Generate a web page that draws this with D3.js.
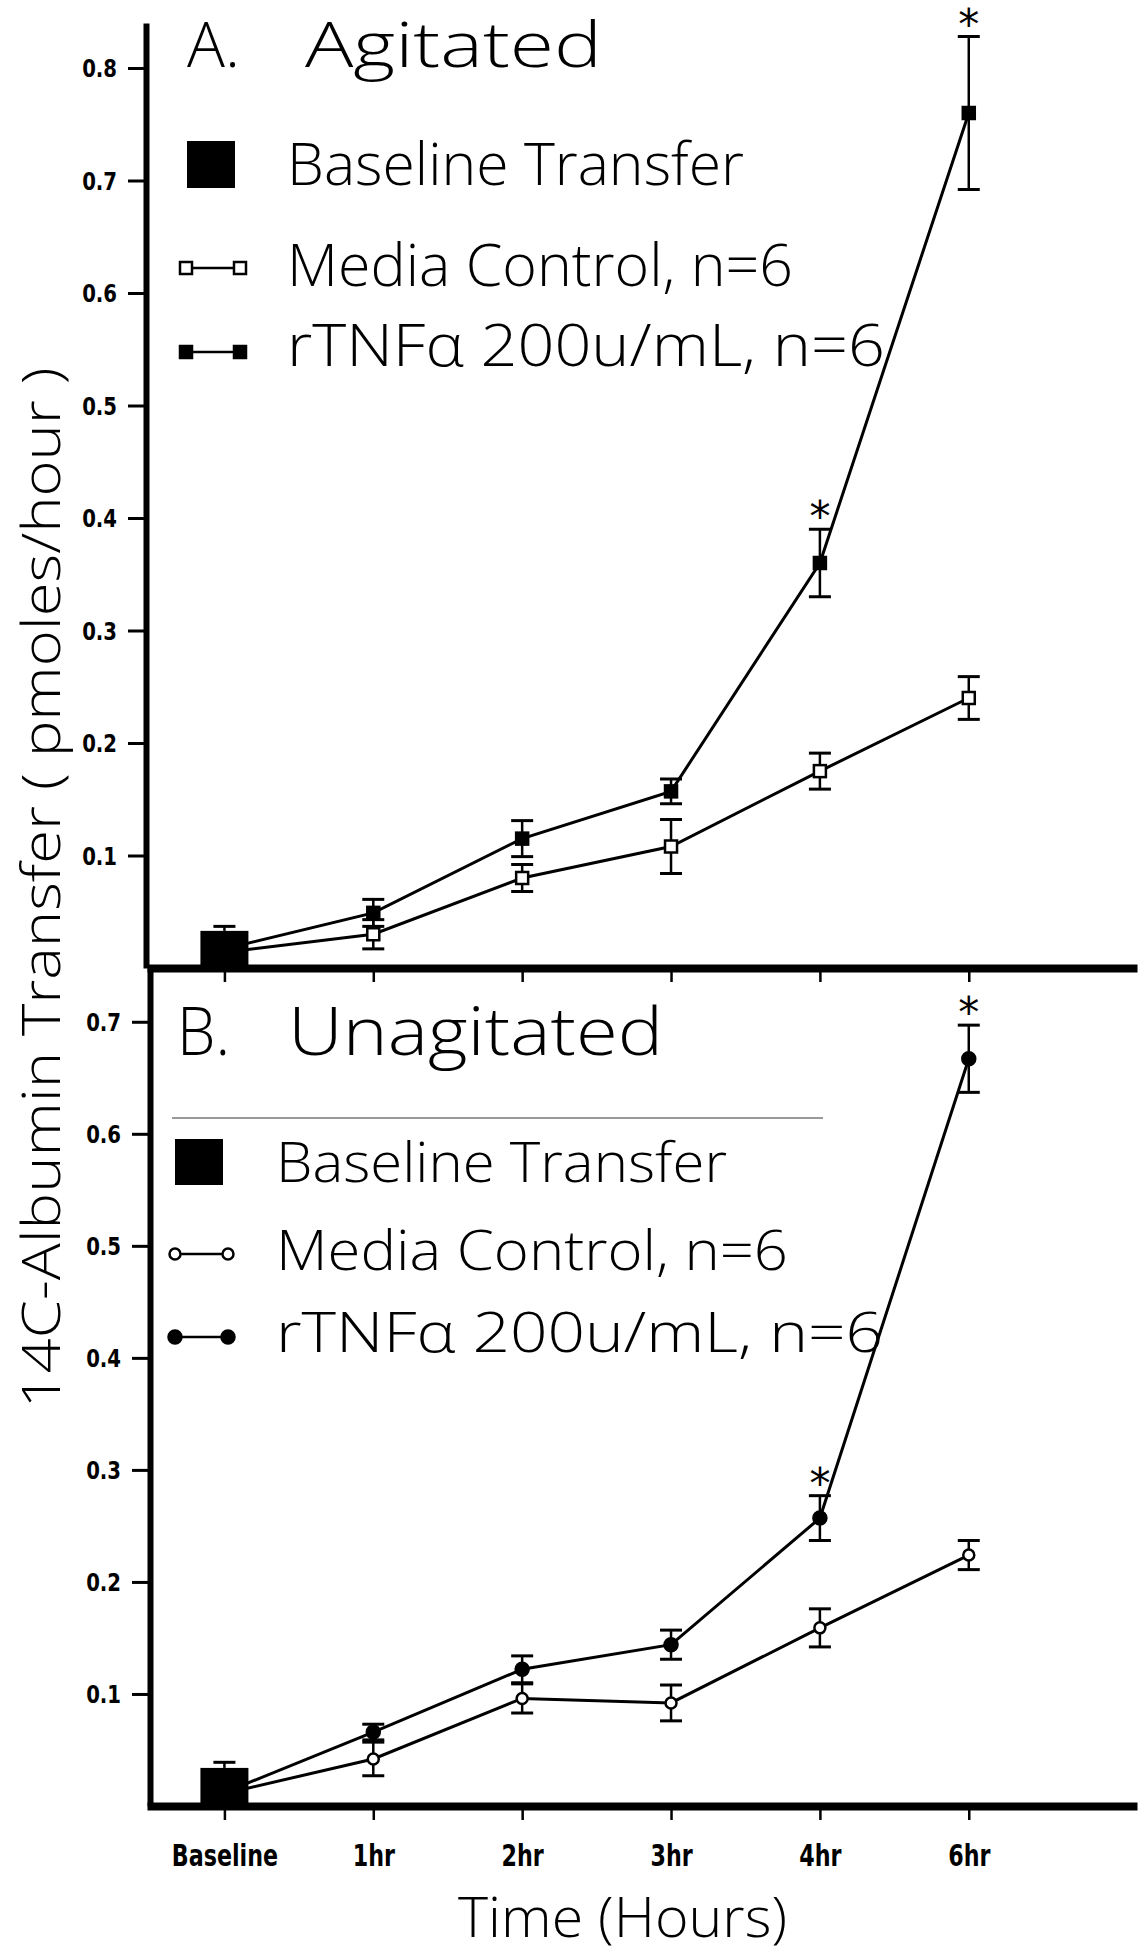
<!DOCTYPE html>
<html>
<head>
<meta charset="utf-8">
<script src="https://cdnjs.cloudflare.com/ajax/libs/d3/7.8.5/d3.min.js"></script>
<style>
    body { margin: 0; background: #fff; }
    svg { display: block; }
    .thin { font-family: 'Open Sans', Lato, 'DejaVu Sans', sans-serif; font-weight: 300; fill: #000; }
    .lbl { font-family: 'DejaVu Sans', sans-serif; font-weight: bold; fill: #000; }
</style>
</head>
<body>
<div id="chart"></div>
<script>
//Datos
const categorias = ['Baseline', '1hr', '2hr', '3hr', '4hr', '6hr'];

//A. Agitated
const mediaA = [0.014, 0.030, 0.080, 0.108, 0.175, 0.240];
const mediaAErr = [0, 0.013, 0.012, 0.024, 0.016, 0.019];
const tnfA = [0.017, 0.049, 0.115, 0.157, 0.360, 0.760];
const tnfAErr = [0, 0.012, 0.016, 0.011, 0.030, 0.068];
const basalA = 0.033, basalAErr = 0.004;
const ticksA = [0.1, 0.2, 0.3, 0.4, 0.5, 0.6, 0.7, 0.8];

//B. Unagitated
const mediaB = [0.011, 0.042, 0.096, 0.092, 0.159, 0.224];
const mediaBErr = [0, 0.015, 0.013, 0.016, 0.017, 0.013];
const tnfB = [0.012, 0.066, 0.122, 0.144, 0.257, 0.667];
const tnfBErr = [0, 0.007, 0.012, 0.013, 0.020, 0.030];
const basalB = 0.034, basalBErr = 0.005;
const ticksB = [0.1, 0.2, 0.3, 0.4, 0.5, 0.6, 0.7];

const significativos = ['4hr', '6hr'];

const textoBasal = 'Baseline Transfer',
    textoMedia = 'Media Control, n=6',
    textoTnf = 'rTNFα 200u/mL, n=6';

///Lienzo
let width = 1142, height = 1954;

let svg = d3.select('#chart')
    .append('svg')
    .attr('width', width)
    .attr('height', height);

//Eje X común (índice de categoría)
let x = d3.scaleLinear()
    .domain([-0.52, 6.13])
    .range([147, 1137]);

//Ajuste del ancho de textos
function squeeze(sel, factor) {
    sel.each(function() {
        let w = this.getComputedTextLength();
        d3.select(this).attr('textLength', w * factor).attr('lengthAdjust', 'spacingAndGlyphs');
    });
}

function drawPanel(cfg) {
    let g = svg.append('g');
    let y = cfg.y;

    //Eje Y
    let gy = g.append('g')
        .attr('transform', 'translate(' + cfg.axisX + ',0)')
        .call(d3.axisLeft(y).tickValues(cfg.ticks).tickSize(18).tickSizeOuter(0).tickPadding(11).tickFormat(d3.format('.1f')));
    gy.select('.domain').attr('stroke', '#000').attr('stroke-width', 6);
    gy.selectAll('.tick line').attr('stroke', '#000').attr('stroke-width', 3);
    gy.selectAll('.tick text')
        .attr('class', 'lbl')
        .attr('font-size', 24)
        .attr('dy', '0.36em')
        .call(squeeze, 0.82);

    //Eje X
    let gx = g.append('g')
        .attr('transform', 'translate(0,' + y(0) + ')')
        .call(d3.axisBottom(x).tickValues(d3.range(categorias.length)).tickSize(14).tickSizeOuter(0).tickPadding(25)
            .tickFormat(function(i) { return cfg.labels ? categorias[i] : ''; }));
    gx.select('.domain').attr('stroke', '#000').attr('stroke-width', 8);
    gx.selectAll('.tick line').attr('stroke', '#000').attr('stroke-width', 2.5);
    gx.selectAll('.tick text')
        .attr('class', 'lbl')
        .attr('font-size', 30)
        .call(squeeze, 0.74);

    //Líneas
    let line = d3.line()
        .x(function(d, i) { return x(i); })
        .y(function(d) { return y(d); });

    [cfg.media, cfg.tnf].forEach(function(serie) {
        g.append('path')
            .datum(serie)
            .attr('d', line)
            .attr('fill', 'none')
            .attr('stroke', '#000')
            .attr('stroke-width', 3);
    });

    //Barra basal
    let bw = 48;
    g.append('line')
        .attr('x1', x(0)).attr('x2', x(0))
        .attr('y1', y(cfg.basal)).attr('y2', y(cfg.basal + cfg.basalErr))
        .attr('stroke', '#000').attr('stroke-width', 2.5);
    g.append('line')
        .attr('x1', x(0) - 11).attr('x2', x(0) + 11)
        .attr('y1', y(cfg.basal + cfg.basalErr)).attr('y2', y(cfg.basal + cfg.basalErr))
        .attr('stroke', '#000').attr('stroke-width', 3);
    g.append('rect')
        .attr('x', x(0) - bw / 2)
        .attr('y', y(cfg.basal))
        .attr('width', bw)
        .attr('height', y(0) - y(cfg.basal))
        .attr('fill', '#000');

    //Barras de error
    [[cfg.media, cfg.mediaErr], [cfg.tnf, cfg.tnfErr]].forEach(function(par) {
        let vals = par[0], errs = par[1];
        let eg = g.append('g').selectAll('g')
            .data(d3.range(1, vals.length))
            .enter()
            .append('g');
        eg.append('line')
            .attr('x1', function(i) { return x(i); })
            .attr('x2', function(i) { return x(i); })
            .attr('y1', function(i) { return y(vals[i] - errs[i]); })
            .attr('y2', function(i) { return y(vals[i] + errs[i]); })
            .attr('stroke', '#000').attr('stroke-width', 2.5);
        [-1, 1].forEach(function(s) {
            eg.append('line')
                .attr('x1', function(i) { return x(i) - 11; })
                .attr('x2', function(i) { return x(i) + 11; })
                .attr('y1', function(i) { return y(vals[i] + s * errs[i]); })
                .attr('y2', function(i) { return y(vals[i] + s * errs[i]); })
                .attr('stroke', '#000').attr('stroke-width', 3);
        });
    });

    //Marcadores
    function marker(sel, filled) {
        if (cfg.shape == 'square') {
            sel.append('rect')
                .attr('x', -6).attr('y', -6)
                .attr('width', 12).attr('height', 12)
                .attr('fill', filled ? '#000' : '#fff')
                .attr('stroke', '#000').attr('stroke-width', 2.5);
        } else {
            sel.append('circle')
                .attr('r', filled ? 6.5 : 5.5)
                .attr('fill', filled ? '#000' : '#fff')
                .attr('stroke', '#000').attr('stroke-width', 2.5);
        }
    }

    [[cfg.media, false], [cfg.tnf, true]].forEach(function(par) {
        let vals = par[0];
        g.append('g').selectAll('g')
            .data(d3.range(1, vals.length))
            .enter()
            .append('g')
            .attr('transform', function(i) { return 'translate(' + x(i) + ',' + y(vals[i]) + ')'; })
            .call(marker, par[1]);
    });

    //Asteriscos
    g.selectAll('.sig')
        .data(significativos)
        .enter()
        .append('text')
        .attr('class', 'sig')
        .attr('x', function(d) { return x(categorias.indexOf(d)); })
        .attr('y', function(d) { let i = categorias.indexOf(d); return y(cfg.tnf[i] + cfg.tnfErr[i]) + 2; })
        .attr('text-anchor', 'middle')
        .attr('font-family', 'DejaVu Sans, sans-serif')
        .attr('font-size', 42)
        .text('*');

    //Título
    let t = cfg.title;
    g.append('text').attr('class', 'thin')
        .attr('x', t.x1).attr('y', t.y).attr('font-size', t.size)
        .attr('textLength', t.w1).attr('lengthAdjust', 'spacingAndGlyphs')
        .text(t.a);
    g.append('text').attr('class', 'thin')
        .attr('x', t.x2).attr('y', t.y).attr('font-size', t.size)
        .attr('textLength', t.w2).attr('lengthAdjust', 'spacingAndGlyphs')
        .text(t.b);

    //Leyenda
    let lg = cfg.legend;
    g.append('rect')
        .attr('x', lg.sq[0]).attr('y', lg.sq[1])
        .attr('width', lg.sq[2]).attr('height', lg.sq[3])
        .attr('fill', '#000');

    [[lg.yMedia, false], [lg.yTnf, true]].forEach(function(par) {
        g.append('line')
            .attr('x1', lg.mx[0]).attr('x2', lg.mx[1])
            .attr('y1', par[0]).attr('y2', par[0])
            .attr('stroke', '#000').attr('stroke-width', 2.5);
        lg.mx.forEach(function(mx) {
            g.append('g').attr('transform', 'translate(' + mx + ',' + par[0] + ')').call(marker, par[1]);
        });
    });

    [[textoBasal, lg.tb[0], lg.tw[0]], [textoMedia, lg.tb[1], lg.tw[1]], [textoTnf, lg.tb[2], lg.tw[2]]].forEach(function(tt) {
        g.append('text').attr('class', 'thin')
            .attr('x', lg.tx).attr('y', tt[1])
            .attr('font-size', lg.size)
            .attr('textLength', tt[2]).attr('lengthAdjust', 'spacingAndGlyphs')
            .text(tt[0]);
    });
}

/////
// Panel A
/////
drawPanel({
    y: d3.scaleLinear().domain([0, 0.84]).range([968, 23]),
    axisX: 146,
    ticks: ticksA,
    labels: false,
    media: mediaA, mediaErr: mediaAErr,
    tnf: tnfA, tnfErr: tnfAErr,
    basal: basalA, basalErr: basalAErr,
    shape: 'square',
    title: {a: 'A.', b: 'Agitated', x1: 187, w1: 53, x2: 305, w2: 297, y: 67, size: 62},
    legend: {sq: [187, 141, 48, 47], mx: [186, 240], yMedia: 268, yTnf: 352,
        tx: 287, tb: [185, 286, 366], tw: [457, 506, 598], size: 58}
});

/////
// Panel B
/////
drawPanel({
    y: d3.scaleLinear().domain([0, 0.748]).range([1806, 968]),
    axisX: 150,
    ticks: ticksB,
    labels: true,
    media: mediaB, mediaErr: mediaBErr,
    tnf: tnfB, tnfErr: tnfBErr,
    basal: basalB, basalErr: basalBErr,
    shape: 'circle',
    title: {a: 'B.', b: 'Unagitated', x1: 177, w1: 53, x2: 288, w2: 375, y: 1055, size: 66},
    legend: {sq: [175, 1139, 48, 46], mx: [175, 228], yMedia: 1254, yTnf: 1337,
        tx: 276, tb: [1182, 1270, 1352], tw: [451, 512, 607], size: 55}
});

//Línea tenue bajo el título B
svg.append('line')
    .attr('x1', 172).attr('x2', 823)
    .attr('y1', 1118).attr('y2', 1118)
    .attr('stroke', '#777').attr('stroke-width', 1.5);

//Títulos de ejes
svg.append('text').attr('class', 'thin')
    .attr('transform', 'translate(60,888) rotate(-90)')
    .attr('text-anchor', 'middle')
    .attr('font-size', 54)
    .attr('textLength', 1041).attr('lengthAdjust', 'spacingAndGlyphs')
    .text('14C-Albumin  Transfer ( pmoles/hour )');

svg.append('text').attr('class', 'thin')
    .attr('x', 458).attr('y', 1937)
    .attr('font-size', 55)
    .attr('textLength', 329).attr('lengthAdjust', 'spacingAndGlyphs')
    .text('Time (Hours)');
</script>
</body>
</html>
